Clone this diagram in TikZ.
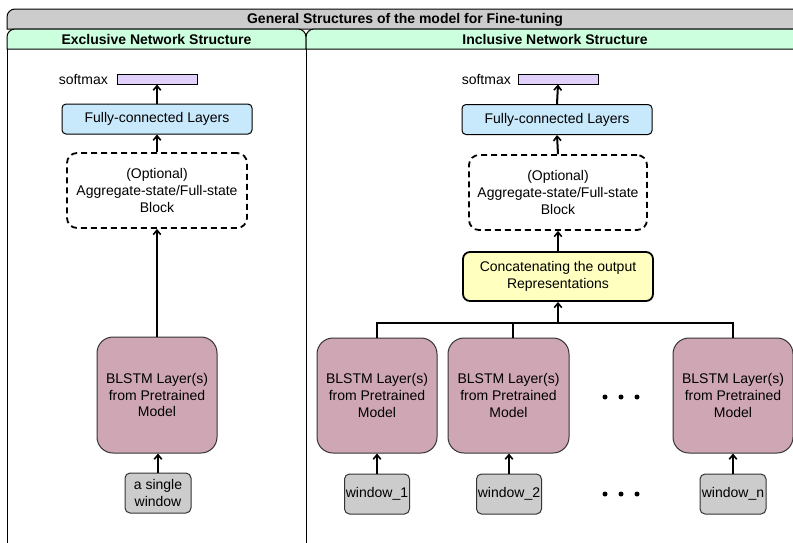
\documentclass[tikz,border=0pt]{standalone}
\usepackage{fontspec}
\setmainfont{Liberation Sans}
\usetikzlibrary{arrows.meta}
\definecolor{titlegray}{HTML}{CCCCCC}
\definecolor{hdrgreen}{HTML}{CCFFDD}
\definecolor{smpurple}{HTML}{E0D0FA}
\definecolor{fcblue}{HTML}{C8E8FB}
\definecolor{blstm}{HTML}{CEA6B4}
\definecolor{catyellow}{HTML}{FFFFC0}
\definecolor{wingray}{HTML}{CCCCCC}
\begin{document}
\begin{tikzpicture}[x=1pt,y=-1pt,
  txt/.style={font=\fontsize{14}{16.6}\selectfont, align=center, inner sep=0pt},
  hdr/.style={font=\fontsize{14}{16}\selectfont\bfseries, inner sep=0pt},
  softbox/.style={draw=black, line width=1pt, fill=smpurple, minimum width=80pt, minimum height=10pt, inner sep=0pt},
  fcbox/.style={txt, draw=black, line width=1pt, fill=fcblue, rounded corners=4pt, minimum width=190pt, minimum height=30pt},
  optbox/.style={txt, draw=black, line width=1.8pt, dash pattern=on 6pt off 4pt, rounded corners=10pt, minimum width=180pt, minimum height=75pt},
  blbox/.style={txt, draw=black!80, line width=1pt, fill=blstm, rounded corners=16pt, minimum width=120pt, minimum height=116pt},
  catbox/.style={txt, draw=black, line width=1.8pt, fill=catyellow, rounded corners=7pt, minimum width=190pt, minimum height=49pt},
  winbox/.style={txt, draw=black!80, line width=1pt, fill=wingray, rounded corners=5pt, minimum width=66pt, minimum height=40pt},
  arr/.style={line width=2pt, -{Straight Barb[length=4.5pt,width=7.5pt,line width=1.6pt]}},
  bus/.style={line width=2pt},
  dotmark/.style={circle, fill=black, inner sep=0pt, minimum size=5pt}
]
\useasboundingbox (0,0) rectangle (793,542);
\clip (0,0) rectangle (793,542);
% frame
\filldraw[fill=titlegray, line width=1pt] (7,29) {[rounded corners=8pt] -- (7,9) -- (810,9)} -- (810,29) -- cycle;
\filldraw[fill=hdrgreen, line width=1pt] (7,49) {[rounded corners=8pt] -- (7,29) -- (306,29)} -- (306,49) -- cycle;
\filldraw[fill=hdrgreen, line width=1pt] (306,49) {[rounded corners=8pt] -- (306,29) -- (810,29)} -- (810,49) -- cycle;
\draw[line width=1pt] (7,49) -- (7,560);
\draw[line width=1pt] (306,49) -- (306,560);
\node[hdr] (title) at (405,19.5) {General Structures of the model for Fine-tuning};
\node[hdr] (hl) at (156.5,39.5) {Exclusive Network Structure};
\node[hdr] (hr) at (555,39.5) {Inclusive Network Structure};

% left column
\node[softbox] (sm1) at (157,79) {};
\node[txt, anchor=east] (sml1) at (108,79) {softmax};
\node[fcbox] (fc1) at (157,119) {Fully-connected Layers};
\node[optbox] (agg1) at (157,190.5) {(Optional)\\Aggregate-state/Full-state\\Block};
\node[blbox] (bl1) at (157,395) {BLSTM Layer(s)\\from Pretrained\\Model};
\node[winbox] (win1) at (158,493) {a single\\window};
\draw[arr] (fc1.north) -- (sm1.south);
\draw[arr] (agg1.north) -- (fc1.south);
\draw[arr] (bl1.north) -- (agg1.south);
\draw[arr] (win1.north) -- (win1.north |- bl1.south);

% right column
\node[softbox] (sm2) at (558,79) {};
\node[txt, anchor=east] (sml2) at (511,79) {softmax};
\node[fcbox] (fc2) at (557,119.5) {Fully-connected Layers};
\node[optbox, minimum width=178pt] (agg2) at (558,192.5) {(Optional)\\Aggregate-state/Full-state\\Block};
\node[catbox] (cat) at (558,276.5) {Concatenating the output\\Representations};
\node[blbox, minimum height=115pt] (b1) at (377,395.5) {BLSTM Layer(s)\\from Pretrained\\Model};
\node[blbox, minimum height=115pt, minimum width=121pt] (b2) at (508.5,395.5) {BLSTM Layer(s)\\from Pretrained\\Model};
\node[blbox, minimum height=115pt] (b3) at (733,395.5) {BLSTM Layer(s)\\from Pretrained\\Model};
\node[winbox, minimum width=65pt] (w1) at (377,494) {window\_1};
\node[winbox, minimum width=65pt] (w2) at (509,494) {window\_2};
\node[winbox, minimum width=66pt] (w3) at (733,494) {window\_n};
\coordinate (busc) at (558,323);
\coordinate (b2top) at (513,338);
\draw[arr] (fc2.north) -- (sm2.south);
\draw[arr] (agg2.north) -- (fc2.south);
\draw[arr] (cat.north) -- (agg2.south);
\draw[bus] (b1.north) -- (b1.north |- busc) -- (b3.north |- busc) -- (b3.north);
\draw[bus] (b2top) -- (b2top |- busc);
\draw[arr] (busc) -- (cat.south);
\draw[arr] (w1.north) -- (w1.north |- b1.south);
\draw[arr] (w2.north) -- (w2.north |- b2.south);
\draw[arr] (w3.north) -- (w3.north |- b3.south);
\node[dotmark] (d1) at (605,397) {};
\node[dotmark] (d2) at (621,397) {};
\node[dotmark] (d3) at (637,397) {};
\node[dotmark] (e1) at (605,494) {};
\node[dotmark] (e2) at (621,494) {};
\node[dotmark] (e3) at (637,494) {};
\end{tikzpicture}
\end{document}
